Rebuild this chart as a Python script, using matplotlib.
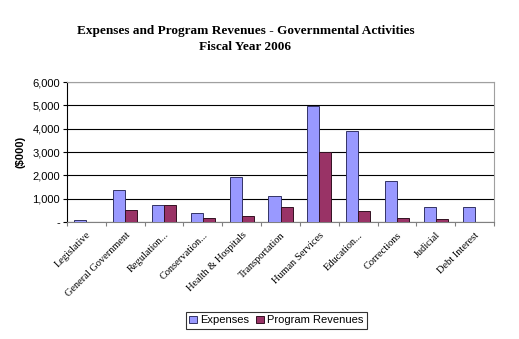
import matplotlib.pyplot as plt
import numpy as np

# --- data ($000) ---
categories = ['Legislative', 'General Government', 'Regulation...', 'Conservation...',
              'Health & Hospitals', 'Transportation', 'Human Services', 'Education...',
              'Corrections', 'Judicial', 'Debt Interest']
expenses = [100, 1380, 720, 400, 1920, 1100, 4980, 3900, 1770, 660, 630]
program_revenues = [0, 500, 720, 190, 250, 630, 3000, 470, 160, 115, 0]
y_ticks = [0, 1000, 2000, 3000, 4000, 5000, 6000]
y_tick_labels = ['-', '1,000', '2,000', '3,000', '4,000', '5,000', '6,000']

fig = plt.figure(figsize=(5.19, 3.39), dpi=100)
ax = fig.add_axes([0.129, 0.345, 0.823, 0.413])

x = np.arange(len(categories))
w = 0.31
ax.bar(x - w / 2, expenses, w, color='#9999FF', edgecolor='#333366', linewidth=0.7,
       label='Expenses', zorder=3)
ax.bar(x + w / 2, program_revenues, w, color='#993366', edgecolor='#331122', linewidth=0.7,
       label='Program Revenues', zorder=3)

ax.set_xlim(-0.5, len(categories) - 0.5)
ax.set_ylim(0, 6000)
ax.set_yticks(y_ticks)
ax.set_yticklabels(y_tick_labels, fontfamily='Liberation Sans', fontsize=8)
ax.yaxis.grid(True, color='black', linewidth=0.8, zorder=0)

# category ticks sit between groups, labels at group centres
ax.set_xticks(np.arange(len(categories) + 1) - 0.5)
ax.set_xticklabels([])
ax.set_xticks(x, minor=True)
ax.set_xticklabels(categories, minor=True, rotation=45, ha='right', rotation_mode='anchor',
                   fontfamily='Liberation Serif', fontsize=7.5)
ax.tick_params(axis='x', which='minor', length=0, pad=6)
ax.tick_params(axis='x', which='major', length=3, color='#808080')
ax.tick_params(axis='y', length=3, pad=2)

for side in ['top', 'right']:
    ax.spines[side].set_color('#a0a0a0')
ax.spines['bottom'].set_color('#808080')
ax.spines['left'].set_color('black')

ax.set_ylabel('($000)', fontfamily='Liberation Sans', fontweight='bold', fontsize=8, labelpad=5)

fig.text(0.473, 0.91, 'Expenses and Program Revenues - Governmental Activities',
         ha='center', va='center', fontfamily='Liberation Serif', fontweight='bold', fontsize=9.5)
fig.text(0.473, 0.86, 'Fiscal Year 2006',
         ha='center', va='center', fontfamily='Liberation Serif', fontweight='bold', fontsize=9.5)

leg = fig.legend(loc='center', bbox_to_anchor=(0.532, 0.055), ncol=2, frameon=True,
                 fancybox=False, edgecolor='black', handlelength=0.7, handleheight=0.7,
                 handletextpad=0.3, columnspacing=0.6, borderpad=0.3,
                 prop={'family': 'Liberation Sans', 'size': 8})
leg.get_frame().set_linewidth(0.8)

fig.savefig('out.png', dpi=100)
